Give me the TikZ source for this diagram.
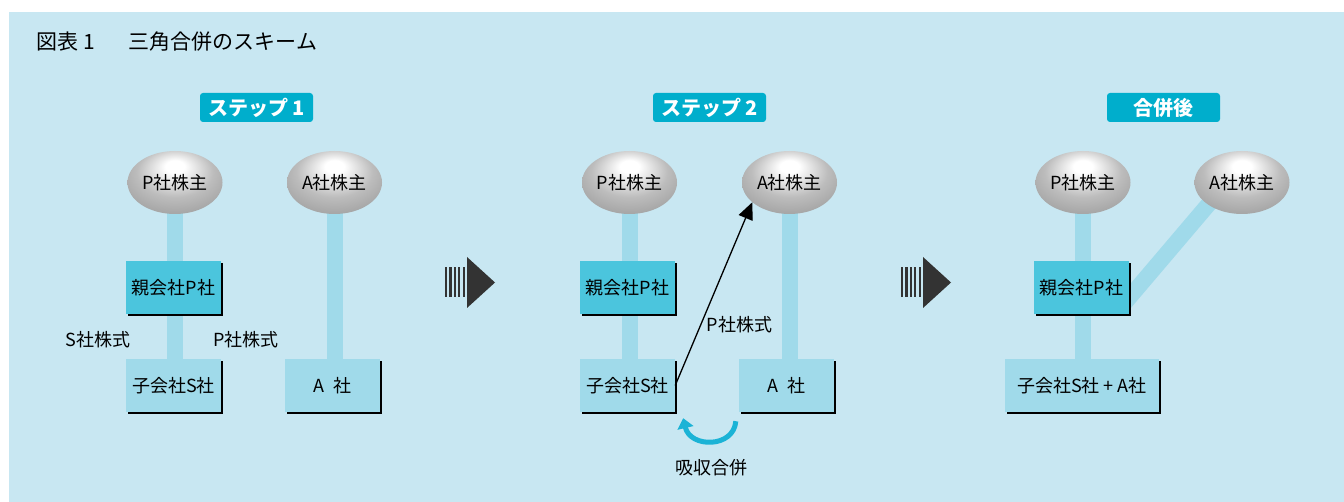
\documentclass[tikz,border=0pt]{standalone}
\usepackage{fontspec}
\setmainfont{Noto Sans CJK JP}
\usetikzlibrary{arrows.meta,shadows,calc,shapes.geometric}
\definecolor{bgblue}{HTML}{C8E7F2}
\definecolor{steplab}{HTML}{00AECC}
\definecolor{boxdark}{HTML}{4BC5DD}
\definecolor{boxlight}{HTML}{A0DAEA}
\definecolor{barblue}{HTML}{A0DAEA}
\definecolor{arrowgray}{HTML}{333333}
\definecolor{curvecyan}{HTML}{1BB3D6}
\pgfdeclarelayer{bg}
\pgfsetlayers{bg,main}
\pgfdeclareradialshading{pearl}{\pgfpoint{0bp}{14bp}}{color(0bp)=(white); color(5bp)=(white); color(20bp)=(black!26); color(36bp)=(black!40); color(50bp)=(black!55)}
\newcommand\stepArrow[1]{%
  \begin{scope}[xshift=#1]
    \foreach \i in {0,...,4}{\fill[arrowgray] (\i*4.4,267) rectangle ++(2.2,30);}
    \fill[arrowgray] (22,257) -- (50,282.5) -- (22,308) -- cycle;
  \end{scope}}
\begin{document}
\begin{tikzpicture}[x=1pt,y=-1pt,
  every node/.style={font=\fontsize{18pt}{20pt}\selectfont, text=black},
  holder/.style={ellipse, minimum width=95pt, minimum height=63pt, inner sep=0pt, shading=pearl},
  boxbase/.style={rectangle, minimum width=95pt, minimum height=53pt, inner sep=0pt,
    drop shadow={shadow xshift=2pt,shadow yshift=-2pt,opacity=1,fill=black}},
  darkbox/.style={boxbase, fill=boxdark},
  lightbox/.style={boxbase, fill=boxlight},
  steplabel/.style={rectangle, rounded corners=3pt, fill=steplab, minimum width=113pt, minimum height=29pt,
    inner sep=0pt, text=white, font=\fontsize{20pt}{22pt}\selectfont\bfseries},
  bar/.style={draw=barblue, line width=16pt},
  share/.style={-{Triangle[length=17pt,width=15pt]}, line width=1.3pt, draw=black},
  merge/.style={-{Triangle[length=10pt,width=16pt]}, line width=5pt, draw=curvecyan}
]
\useasboundingbox (0,0) rectangle (1344,502);
\begin{pgfonlayer}{bg}
  \fill[bgblue] (9,12) rectangle (1344,502);
\end{pgfonlayer}

\node[anchor=west, font=\fontsize{21pt}{23pt}\selectfont] (title) at (33,42) {図表 1\hspace{34pt}三角合併のスキーム};

% Step 1
\node[steplabel] (s1) at (256.5,107.5) {ステップ 1};
\node[holder] (pA) at (175,182.5) {P社株主};
\node[holder] (aA) at (334.5,182.5) {A社株主};
\node[darkbox] (oyaA) at (173.5,287.5) {親会社P社};
\node[lightbox] (koA) at (173.5,385.5) {子会社S社};
\node[lightbox] (kaA) at (332.5,385.5) {A\hspace{10pt}社};
\node (lblS) at (98,340) {S社株式};
\node (lblP) at (246,340) {P社株式};
\begin{pgfonlayer}{bg}
  \draw[bar] (pA.center) -- (pA.center |- koA.center);
  \draw[bar] (aA.center) -- (aA.center |- kaA.center);
\end{pgfonlayer}

\stepArrow{445pt}

% Step 2
\node[steplabel] (s2) at (709.5,107.5) {ステップ 2};
\node[holder] (pB) at (629.5,182.5) {P社株主};
\node[holder] (aB) at (789.5,182.5) {A社株主};
\node[darkbox] (oyaB) at (627.5,287.5) {親会社P社};
\node[lightbox] (koB) at (627.5,385.5) {子会社S社};
\node[lightbox] (kaB) at (786.5,385.5) {A\hspace{10pt}社};
\node (lblB) at (739.5,325) {P社株式};
\node (absorb) at (711,468) {吸収合併};
\begin{pgfonlayer}{bg}
  \draw[bar] (pB.center) -- (pB.center |- koB.center);
  \draw[bar] (aB.center) -- (aB.center |- kaB.center);
\end{pgfonlayer}
\draw[share] (koB.east) -- (aB.208);
\draw[merge] ($(kaB.south west)+(-3,9)$) .. controls ($(kaB.south west)+(-5,36)$) and ($(koB.south east)+(15,36)$) .. ($(koB.south east)+(8,6)$);

\stepArrow{901pt}

% After
\node[steplabel] (s3) at (1163.5,107.5) {合併後};
\node[holder] (pC) at (1083,182.5) {P社株主};
\node[holder] (aC) at (1242,182.5) {A社株主};
\node[darkbox] (oyaC) at (1081.5,287.5) {親会社P社};
\node[lightbox, minimum width=154pt] (koC) at (1082,385.5) {子会社S社 + A社};
\begin{pgfonlayer}{bg}
  \draw[bar] (pC.center) -- (pC.center |- koC.center);
  \draw[bar] ([xshift=-15pt]aC.center) -- ([xshift=-8pt,yshift=-19.5pt]oyaC.east);
\end{pgfonlayer}
\end{tikzpicture}
\end{document}
